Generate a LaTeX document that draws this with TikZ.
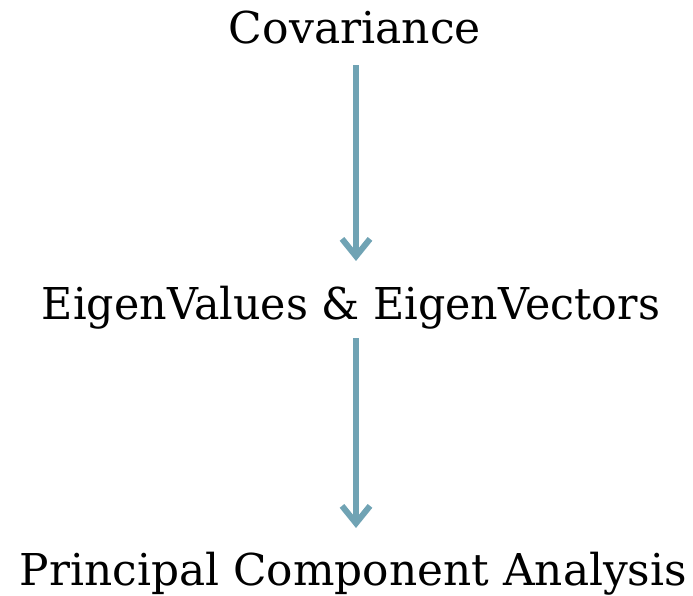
\documentclass[tikz,border=0pt]{standalone}
\usepackage{fontspec}
\setmainfont{DejaVu Serif}
\usetikzlibrary{arrows.meta}
\newlength{\px}
\setlength{\px}{0.75pt}
\definecolor{arrcol}{RGB}{112,163,180}
\newcommand{\fitlbl}[2]{\resizebox{#1\px}{32\px}{\vphantom{E}\smash{#2}}}
\begin{document}
\begin{tikzpicture}[x=0.75pt,y=-0.75pt,
  lbl/.style={inner sep=0pt, outer sep=0pt, anchor=base},
  arr/.style={draw=arrcol, line width=4.5pt,
    -{Straight Barb[length=13pt,width=21pt,line width=4.5pt]}}]
\useasboundingbox (0,0) rectangle (693,596);
\node[lbl] (a) at (355,44) {\fitlbl{252}{Covariance}};
\node[lbl] (b) at (351,319) {\fitlbl{618}{EigenValues \& EigenVectors}};
\node[lbl] (c) at (353.5,585) {\fitlbl{667}{Principal Component Analysis}};
\coordinate (ax) at (356,0);
\draw[arr, shorten <=15.75pt, shorten >=19.5pt] (a.south -| ax) -- (b.north -| ax);
\draw[arr, shorten <=14.25pt, shorten >=18.75pt] (b.south -| ax) -- (c.north -| ax);
\end{tikzpicture}
\end{document}
